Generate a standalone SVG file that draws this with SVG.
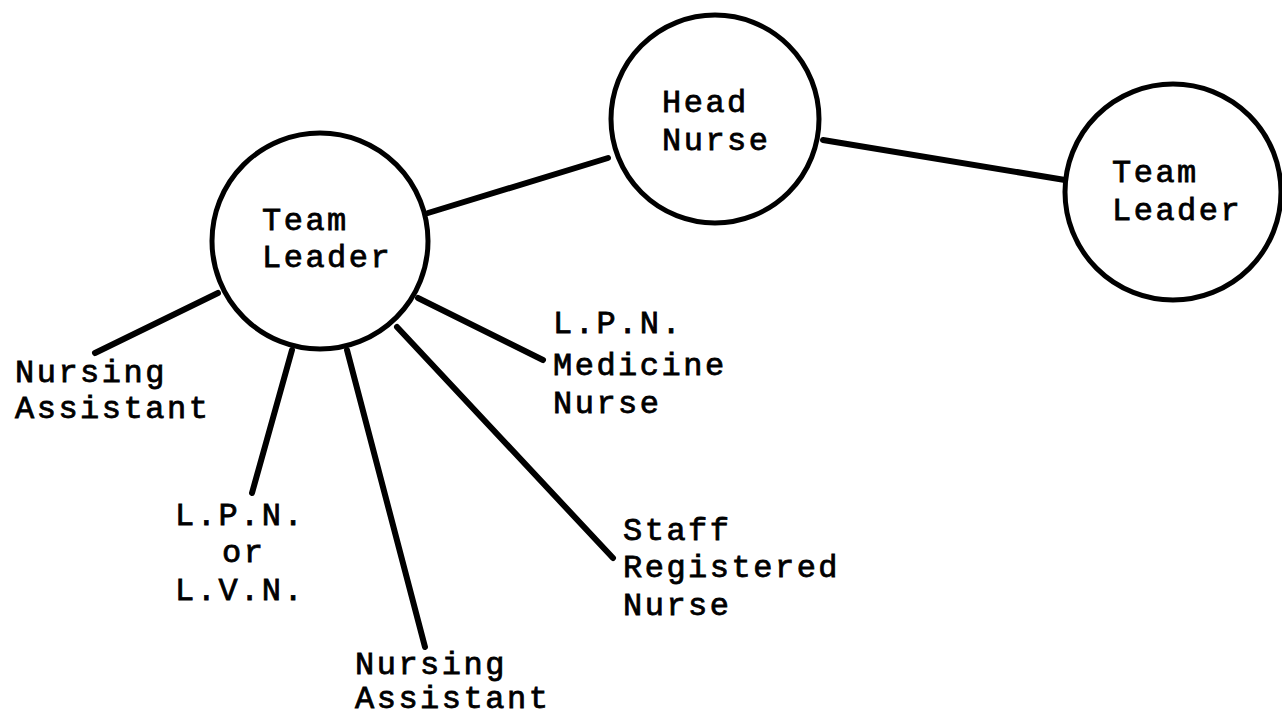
<svg xmlns="http://www.w3.org/2000/svg" width="1282" height="719" viewBox="0 0 1282 719">
<style>
.node circle{fill:none;stroke:#000;stroke-width:5}
.edge line{stroke:#000;stroke-width:6;stroke-linecap:round}
text{font-family:"Liberation Mono","DejaVu Sans Mono",monospace;font-size:32px;letter-spacing:2.5px;fill:#000;stroke:#000;stroke-width:0.8}
</style>
<rect width="1282" height="719" fill="#fff"/>
<g id="connectors" class="edge">
<line x1="428" y1="213" x2="608" y2="158"/>
<line x1="823" y1="140" x2="1065" y2="180"/>
<line x1="218" y1="293" x2="95" y2="353"/>
<line x1="292" y1="350" x2="252" y2="493"/>
<line x1="347" y1="350" x2="425" y2="647"/>
<line x1="397" y1="327" x2="613" y2="558"/>
<line x1="418" y1="298" x2="543" y2="360"/>
</g>
<g id="team-leader-left" class="node">
<circle cx="320" cy="241" r="108"/>
<text x="262" y="230">Team</text>
<text x="262" y="267">Leader</text>
</g>
<g id="head-nurse" class="node">
<circle cx="715" cy="119" r="104"/>
<text x="662" y="112">Head</text>
<text x="662" y="150">Nurse</text>
</g>
<g id="team-leader-right" class="node">
<circle cx="1173" cy="192" r="108"/>
<text x="1112" y="182">Team</text>
<text x="1112" y="220">Leader</text>
</g>
<g id="nursing-assistant-left">
<text x="15" y="382">Nursing</text>
<text x="15" y="418">Assistant</text>
</g>
<g id="lpn-or-lvn">
<text x="175" y="525">L.P.N.</text>
<text x="222" y="562">or</text>
<text x="175" y="600">L.V.N.</text>
</g>
<g id="nursing-assistant-bottom">
<text x="355" y="674">Nursing</text>
<text x="355" y="708">Assistant</text>
</g>
<g id="lpn-medicine-nurse">
<text x="553" y="333">L.P.N.</text>
<text x="553" y="375">Medicine</text>
<text x="553" y="413">Nurse</text>
</g>
<g id="staff-rn">
<text x="623" y="540">Staff</text>
<text x="623" y="577">Registered</text>
<text x="623" y="615">Nurse</text>
</g>
</svg>
